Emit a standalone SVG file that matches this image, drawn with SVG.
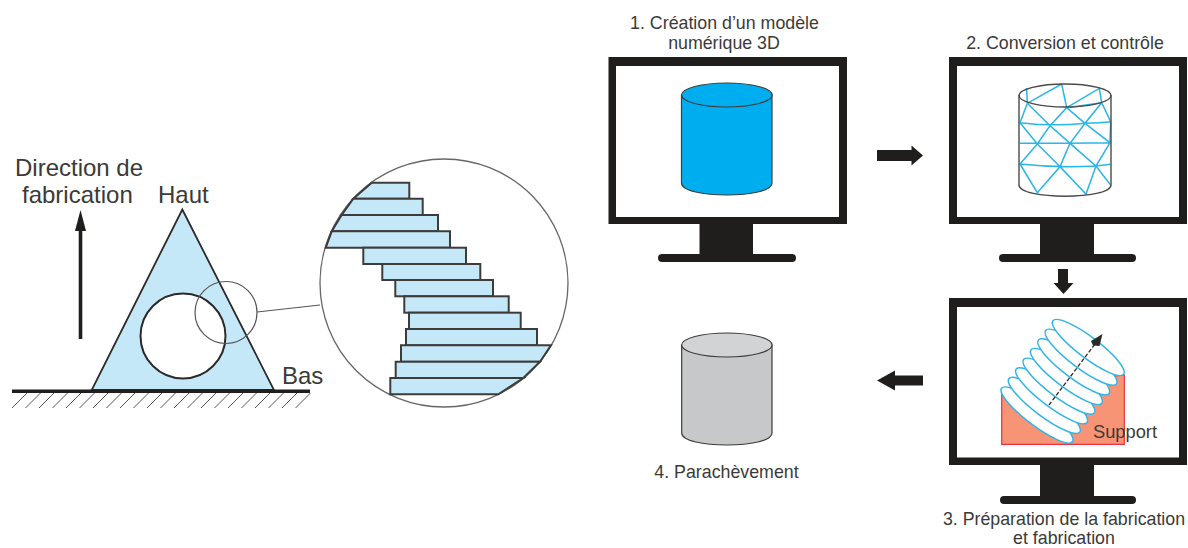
<svg xmlns="http://www.w3.org/2000/svg" width="1188" height="548" viewBox="0 0 1188 548">
<style>
text{font-family:"Liberation Sans",Arial,sans-serif;fill:#3a3a39}
.l{font-size:24px}
.m{font-size:17.800px}
.blk{fill:#1f1e1c}
.st{fill:#c5e8f8;stroke:#3c3c3b;stroke-width:2}
.sl{fill:#fff;stroke:#2fb5e8;stroke-width:1.500}
.mesh{fill:none;stroke:#29b6e8;stroke-width:4.500}
</style>
<rect width="1188" height="548" fill="#fff"/>
<g id="part">
<path stroke="#555" stroke-width="1" fill="none" d="M12 408l16-16M25.500 408l16-16M39 408l16-16M52.500 408l16-16M66 408l16-16M79.500 408l16-16M93 408l16-16M106.500 408l16-16M120 408l16-16M133.500 408l16-16M147 408l16-16M160.500 408l16-16M174 408l16-16M187.500 408l16-16M201 408l16-16M214.500 408l16-16M228 408l16-16M241.500 408l16-16M255 408l16-16M268.500 408l16-16M282 408l16-16M295.500 408l15-15"/>
<path d="M182.300 209.500L274 390H91.700Z" fill="#c5e8f8" stroke="#2b2a29" stroke-width="1.800"/>
<circle cx="183" cy="336" r="42.500" fill="#fff" stroke="#2b2a29" stroke-width="2"/>
<rect x="12" y="389.500" width="298" height="3.500" fill="#1f1e1c"/>
<circle cx="226" cy="312.500" r="31" fill="none" stroke="#555" stroke-width="1.200"/>
<path d="M257 312L320 305" stroke="#555" stroke-width="1.200"/>
</g>
<g id="detail">
<circle cx="444" cy="283" r="124" fill="#fff" stroke="#666" stroke-width="1.300"/>
<path class="st" d="M371.700 182.700H409.300V198.700H353.300Z"/>
<path class="st" d="M353.300 198.700H422.700V215H341.700Z"/>
<path class="st" d="M341.700 215H438V231.300H331.700Z"/>
<path class="st" d="M331.700 231.300H450V247.700H325.700Z"/>
<rect class="st" x="363.300" y="247.700" width="102.700" height="16.300"/>
<rect class="st" x="382.300" y="264" width="98" height="16"/>
<rect class="st" x="395.300" y="280" width="97.700" height="16.300"/>
<rect class="st" x="404.300" y="296.300" width="104.400" height="16.400"/>
<rect class="st" x="409" y="312.700" width="111.700" height="16.300"/>
<rect class="st" x="406" y="329" width="131" height="16.300"/>
<path class="st" d="M401 345.300H551L540 361.700H401Z"/>
<path class="st" d="M395.700 361.700H540L523.300 378H395.700Z"/>
<path class="st" d="M390.300 378H523.300L498.300 394.300H390.300Z"/>
</g>
<g id="labels-left">
<text class="l" x="15" y="175.500">Direction de</text>
<text class="l" x="22" y="203">fabrication</text>
<text class="l" x="158" y="203">Haut</text>
<text class="l" x="282" y="384">Bas</text>
</g>
<g id="connectors">
<path d="M80.500 339V228" stroke="#1f1e1c" stroke-width="3.600"/>
<path d="M80.500 210L86 231H75Z" class="blk"/>
<path d="M877 150H911.500V145.500L923 155.500L911.500 165.500V161H877Z" class="blk"/>
<path d="M1058 269H1068V283H1073.500L1063.500 294L1053.500 283H1058Z" class="blk"/>
<path d="M923 375.500H895V370.500L877 380.500L895 390.500V385.500H923Z" class="blk"/>
</g>
<g id="screen1">
<rect class="blk" x="699.500" y="224" width="53.500" height="32"/>
<rect class="blk" x="658" y="254" width="138" height="8" rx="4"/>
<path class="blk" fill-rule="evenodd" d="M608.500 57H847V224H608.500ZM616 66V217H839V66Z"/>
<path d="M681.500 95V183C681.500 199 772 199 772 183V95Z" fill="#00aeef" stroke="#3c3c3b" stroke-width="1.200"/>
<ellipse cx="726.800" cy="95" rx="45.300" ry="12" fill="#00aeef" stroke="#3c3c3b" stroke-width="1.200"/>
<text class="m" x="724.500" y="29" text-anchor="middle">1. Création d’un modèle</text>
<text class="m" x="724" y="49" text-anchor="middle">numérique 3D</text>
</g>
<g id="screen2">
<rect class="blk" x="1040" y="224" width="54" height="32"/>
<rect class="blk" x="999" y="254" width="137" height="8" rx="4"/>
<path class="blk" fill-rule="evenodd" d="M949 57H1187V224H949ZM957 66V217H1179V66Z"/>
<g transform="translate(1000 70) scale(.3333)">
<path class="mesh" d="M80 55L82 100L185 42L200 113L298 55L305 98L200 113M82 100L150 167L200 113L255 160L305 98L332 155M82 100L60 158M60 158Q160 170 255 160Q300 158 332 155M60 158L112 222L150 167L210 220L255 160L330 218L332 155M60 220L210 220L330 218M112 222L60 282M112 222L180 290L210 220L288 288L330 218M60 282Q180 295 288 288L332 283M60 282L112 368L180 290L258 372L288 288L332 345"/>
</g>
<path d="M1019 95V185C1019 200 1111 200 1111 185V95" fill="none" stroke="#4a4a49" stroke-width="1.400"/>
<ellipse cx="1065" cy="95.500" rx="46" ry="11.500" fill="none" stroke="#4a4a49" stroke-width="1.400"/>
<text class="m" x="1065" y="48.500" text-anchor="middle">2. Conversion et contrôle</text>
</g>
<g id="screen3">
<rect class="blk" x="1040" y="465" width="54" height="32"/>
<rect class="blk" x="1000" y="496" width="136" height="8" rx="4"/>
<path class="blk" fill-rule="evenodd" d="M949 298H1187V465H949ZM957 307V457.500H1179V307Z"/>
<path d="M1001.700 389L1124.300 375V444.300H1001.700Z" fill="#f79476" stroke="#ee2f3c" stroke-width="1.200"/>
<g id="slices">
<ellipse class="sl" transform="rotate(37 1037 415)" cx="1037" cy="415" rx="44.400" ry="10.500"/>
<ellipse class="sl" transform="rotate(37 1044.300 405.400)" cx="1044.300" cy="405.400" rx="44.400" ry="10.500"/>
<ellipse class="sl" transform="rotate(37 1051.600 395.800)" cx="1051.600" cy="395.800" rx="44.400" ry="10.500"/>
<ellipse class="sl" transform="rotate(37 1058.900 386.200)" cx="1058.900" cy="386.200" rx="44.400" ry="10.500"/>
<ellipse class="sl" transform="rotate(37 1066.400 376.500)" cx="1066.400" cy="376.500" rx="44.400" ry="10.500"/>
<ellipse class="sl" transform="rotate(37 1073.700 366.900)" cx="1073.700" cy="366.900" rx="44.400" ry="10.500"/>
<ellipse class="sl" transform="rotate(37 1081 357.200)" cx="1081" cy="357.200" rx="44.400" ry="10.500"/>
<ellipse class="sl" transform="rotate(37 1088.300 347.500)" cx="1088.300" cy="347.500" rx="44.400" ry="10.500"/>
</g>
<path d="M1049 405L1095 344" stroke="#2b2a29" stroke-width="1.300" stroke-dasharray="4 2"/>
<path d="M1102.500 334L1099.500 346L1093 345.500L1091 341Z" fill="#2b2a29"/>
<text x="1093" y="438" font-size="18.300">Support</text>
<text class="m" x="1064" y="524.500" text-anchor="middle">3. Préparation de la fabrication</text>
<text class="m" x="1064" y="543.500" text-anchor="middle">et fabrication</text>
</g>
<g id="part-finished">
<path d="M681.700 345V433C681.700 449 772 449 772 433V345Z" fill="#c6c8ca" stroke="#3c3c3b" stroke-width="1.200"/>
<ellipse cx="726.800" cy="345" rx="45.200" ry="12" fill="#d1d3d4" stroke="#3c3c3b" stroke-width="1.200"/>
<text class="m" x="726.500" y="477.500" text-anchor="middle">4. Parachèvement</text>
</g>
</svg>
